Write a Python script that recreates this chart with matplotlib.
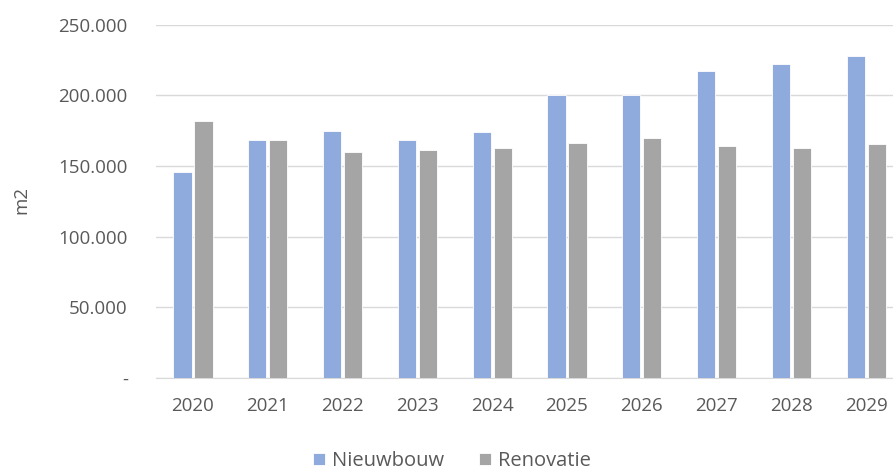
import matplotlib.pyplot as plt
import numpy as np
from matplotlib.ticker import FuncFormatter

# Data (m2 per year)
years = ["2020", "2021", "2022", "2023", "2024", "2025", "2026", "2027", "2028", "2029"]
nieuwbouw = [145500, 168000, 175000, 168000, 174000, 200500, 200500, 217500, 222000, 227500]
renovatie = [182000, 168000, 159500, 161000, 162500, 166500, 169500, 164000, 162500, 165500]

plt.rcParams["font.family"] = ["Open Sans", "DejaVu Sans"]
text_color = "#595959"
grid_color = "#D9D9D9"

fig = plt.figure(figsize=(8.93, 4.70), dpi=100)
ax = fig.add_axes([155.6 / 893, 0.1964, 748 / 893, 0.751])

x = np.arange(len(years))
w = 0.245
ax.bar(x - 0.14, nieuwbouw, w, color="#8FAADC", edgecolor="white", linewidth=0.6, label="Nieuwbouw", zorder=3)
ax.bar(x + 0.14, renovatie, w, color="#A5A5A5", edgecolor="white", linewidth=0.6, label="Renovatie", zorder=3)

ax.set_xlim(-0.5, len(years) - 0.5)
ax.set_ylim(0, 250000)
ax.set_yticks(np.arange(0, 250001, 50000))

def fmt(v, pos):
    if v == 0:
        return "-"
    return f"{int(v):,}".replace(",", ".")

ax.yaxis.set_major_formatter(FuncFormatter(fmt))
ax.set_xticks(x)
ax.set_xticklabels(years)

ax.grid(axis="y", color=grid_color, linewidth=1, zorder=0)
for s in ["top", "right", "left"]:
    ax.spines[s].set_visible(False)
ax.spines["bottom"].set_color(grid_color)
ax.tick_params(axis="both", length=0, labelsize=13.5, colors=text_color)
ax.tick_params(axis="y", pad=20)
ax.tick_params(axis="x", pad=14)

ax.set_ylabel("m2", fontsize=13.5, color=text_color)
ax.yaxis.set_label_coords(-0.168, 0.503)

fig.legend(loc="center", bbox_to_anchor=(452 / 893, 1 - 461 / 470), ncol=2, frameon=False,
           fontsize=14.5, labelcolor=text_color, handlelength=0.6, handleheight=0.6,
           handletextpad=0.35, columnspacing=1.7)

fig.savefig("out.png", dpi=100)
